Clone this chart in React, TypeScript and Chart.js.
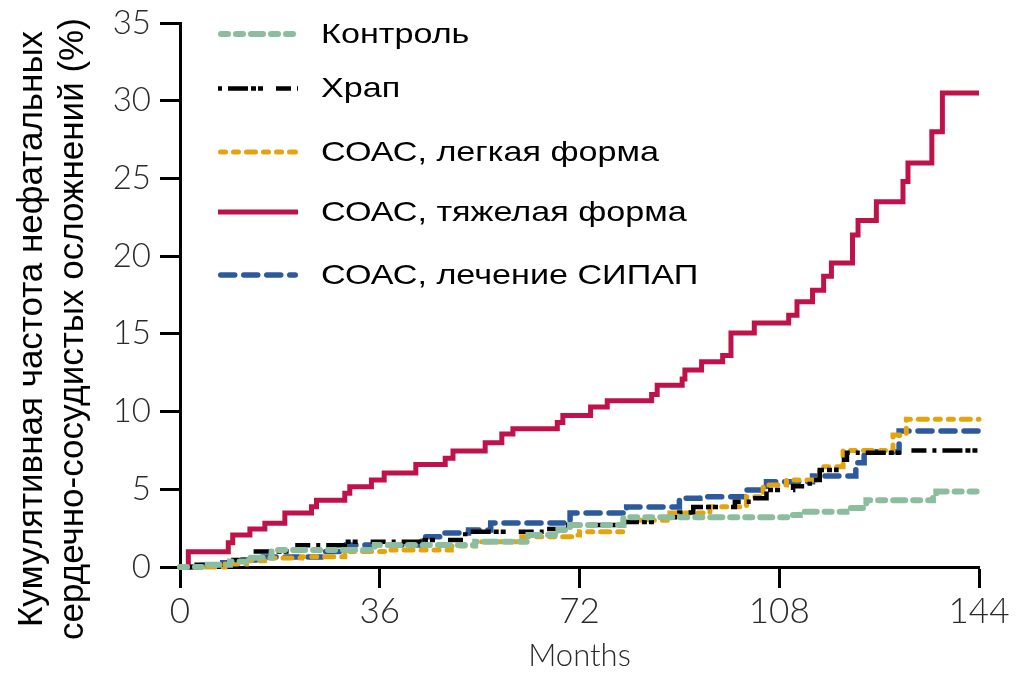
import { useEffect, useRef } from "react";
import { Chart, registerables } from "chart.js";

Chart.register(...registerables);

// ---- Data ----
const seriesLabels = [
  "Контроль",
  "Храп",
  "СОАС, легкая форма",
  "СОАС, тяжелая форма",
  "СОАС, лечение СИПАП",
];

const ctrlMonths = [0, 5, 9, 12.5, 16.5, 35.1, 53.2, 62.8, 68.2, 70.3, 79.9, 109.9, 111.7, 120.1, 123.7, 135.7, 136.3, 144];
const ctrlValues = [0, 0.15, 0.35, 0.6, 1.09, 1.42, 1.63, 2.06, 2.38, 2.7, 3.2, 3.35, 3.56, 3.8, 4.3, 4.52, 4.85, 4.85];

const snoreMonths = [0, 3, 8, 12.9, 19.8, 29.7, 44.1, 51.4, 65.8, 70, 80, 86, 90, 92.5, 100, 103, 105.7, 110.5, 113.5, 115.3, 118.3, 120.2, 130, 144];
const snoreValues = [0, 0.15, 0.45, 0.99, 1.4, 1.63, 1.74, 2.27, 2.44, 2.7, 2.9, 3.2, 3.5, 3.86, 4.2, 4.43, 4.95, 5.2, 5.6, 6.24, 6.9, 7.35, 7.5, 7.5];

const mildMonths = [0, 8.1, 12, 15.9, 21.9, 29.7, 37.5, 48.9, 53.2, 61.6, 70.6, 72, 79.9, 88.3, 95.5, 102.1, 105.1, 109.3, 115.3, 119.5, 128.5, 130.9, 144];
const mildValues = [0, 0.2, 0.4, 0.58, 0.66, 0.99, 1.09, 1.35, 1.63, 1.95, 2.06, 2.27, 3.0, 3.47, 3.88, 4.52, 5.28, 5.6, 6.45, 7.5, 8.5, 9.5, 9.5];

const severeMonths = [0, 1.5, 8.7, 9.5, 12.6, 15.3, 18.9, 23.7, 24.6, 29.7, 30.6, 34.5, 36.8, 42.5, 47.8, 49.2, 55, 58, 60, 68, 69, 74, 77, 85, 86, 90.5, 91, 94, 97.8, 99.3, 103.5, 109.7, 111.2, 114, 116, 117.4, 121.2, 122.2, 125.5, 130.3, 131.2, 135.5, 137.4, 144];
const severeValues = [0, 0.98, 1.56, 2.06, 2.44, 2.82, 3.47, 3.88, 4.3, 4.75, 5.17, 5.6, 6.05, 6.6, 7.0, 7.46, 8.0, 8.55, 8.9, 9.3, 9.75, 10.3, 10.7, 11.1, 11.7, 12.1, 12.68, 13.2, 13.6, 15.05, 15.7, 16.2, 17.07, 17.8, 18.7, 19.56, 21.36, 22.3, 23.5, 24.8, 26.0, 28.0, 30.5, 30.5];

const cpapMonths = [0, 4, 7.7, 11, 14.4, 26, 30, 43.5, 47.7, 52, 56, 70.3, 80.5, 90, 93.7, 102.1, 105.7, 114, 121.8, 123.3, 129.6, 144];
const cpapValues = [0, 0.1, 0.28, 0.45, 0.64, 0.99, 1.42, 1.95, 2.19, 2.38, 2.83, 3.47, 3.86, 4.43, 4.52, 4.95, 5.49, 5.86, 6.7, 7.42, 8.75, 8.75];

const xTickValues = [0, 36, 72, 108, 144];
const yMax = 35;
const yStep = 5;
const xTitle = "Months";
const yTitleLines = ["Кумулятивная частота нефатальных", "сердечно-сосудистых осложнений (%)"];

const toPoints = (xs: number[], ys: number[]) => xs.map((x, i) => ({ x, y: ys[i] }));

// ---- Plugins (legend + rotated y title) ----
const insetLegend = {
  id: "insetLegend",
  afterDraw(chart: any) {
    const ctx = chart.ctx as CanvasRenderingContext2D;
    const rows = [26, 80.5, 144, 204, 267];
    chart.data.datasets.forEach((ds: any, i: number) => {
      const y = rows[i];
      ctx.save();
      ctx.strokeStyle = ds.borderColor;
      ctx.lineWidth = ds.borderWidth;
      ctx.lineCap = ds.borderCapStyle || "butt";
      ctx.setLineDash(ds.borderDash || []);
      const pad = ctx.lineCap === "round" ? ds.borderWidth / 2 : 0;
      ctx.beginPath();
      ctx.moveTo(210 + pad, y);
      ctx.lineTo(290 - pad, y);
      ctx.stroke();
      ctx.setLineDash([]);
      ctx.fillStyle = "#000";
      ctx.font = '28px "Liberation Sans", Arial, sans-serif';
      ctx.textBaseline = "middle";
      ctx.textAlign = "left";
      ctx.translate(313, y + 1);
      ctx.scale(1.22, 1);
      ctx.fillText(ds.label, 0, 0);
      ctx.restore();
    });
  },
};

const yTitlePlugin = {
  id: "yTitle",
  afterDraw(chart: any) {
    const ctx = chart.ctx as CanvasRenderingContext2D;
    const baselines = [34, 75];
    ctx.save();
    ctx.fillStyle = "#000";
    ctx.font = '35px "Liberation Sans", Arial, sans-serif';
    ctx.textAlign = "center";
    ctx.textBaseline = "alphabetic";
    yTitleLines.forEach((line, i) => {
      ctx.save();
      ctx.translate(baselines[i], 321);
      ctx.rotate(-Math.PI / 2);
      ctx.fillText(line, 0, 0);
      ctx.restore();
    });
    ctx.restore();
  },
};

export default function App() {
  const ref = useRef<HTMLCanvasElement | null>(null);

  useEffect(() => {
    if (!ref.current) return;
    const common = { pointRadius: 0, pointHoverRadius: 0, stepped: "before" as const, fill: false, clip: false as any };
    const chart = new Chart(ref.current, {
      type: "line",
      data: {
        datasets: [
          { ...common, label: seriesLabels[0], data: toPoints(ctrlMonths, ctrlValues), borderColor: "#8dbd9f", borderWidth: 6, borderDash: [7, 8, 7, 8, 12, 8], borderCapStyle: "round" },
          { ...common, label: seriesLabels[1], data: toPoints(snoreMonths, snoreValues), borderColor: "#000000", borderWidth: 4.5, borderDash: [4, 6, 20, 3, 5, 2, 5, 13, 15, 6] },
          { ...common, label: seriesLabels[2], data: toPoints(mildMonths, mildValues), borderColor: "#e6a40c", borderWidth: 5, borderDash: [5, 8, 5, 8, 9, 8], borderCapStyle: "round" },
          { ...common, label: seriesLabels[3], data: toPoints(severeMonths, severeValues), borderColor: "#c0124a", borderWidth: 5 },
          { ...common, label: seriesLabels[4], data: toPoints(cpapMonths, cpapValues), borderColor: "#2d5a9e", borderWidth: 5.5, borderDash: [14, 9], borderCapStyle: "round" },
        ] as any,
      },
      options: {
        animation: false,
        responsive: true,
        maintainAspectRatio: false,
        layout: { padding: { top: 15, right: 30, left: 0, bottom: 0 } },
        plugins: { legend: { display: false }, tooltip: { enabled: false } },
        scales: {
          x: {
            type: "linear",
            min: 0,
            max: 144,
            afterBuildTicks: (s: any) => {
              s.ticks = xTickValues.map((v) => ({ value: v }));
            },
            afterFit: (s: any) => {
              s.height = 99;
              s.paddingLeft = 0;
              s.paddingRight = 0;
            },
            border: { display: true, color: "#000", width: 3 },
            grid: { display: true, drawOnChartArea: false, drawTicks: true, tickLength: 21, tickWidth: 3, tickColor: "#000" },
            ticks: {
              padding: 6,
              color: "#2a2a2a",
              font: { family: "Lato, 'Open Sans', sans-serif", size: 35, weight: "300", lineHeight: 1 },
              maxRotation: 0,
              autoSkip: false,
            },
            title: {
              display: true,
              text: xTitle,
              color: "#2a2a2a",
              font: { family: "Lato, 'Open Sans', sans-serif", size: 31, weight: "300", lineHeight: 1 },
              padding: { top: 0, bottom: -5 },
            },
          },
          y: {
            type: "linear",
            min: 0,
            max: yMax,
            ticks: {
              stepSize: yStep,
              padding: 9,
              color: "#2a2a2a",
              font: { family: "Lato, 'Open Sans', sans-serif", size: 33, weight: "300", lineHeight: 1 },
            },
            afterFit: (s: any) => {
              s.width = 172;
              s.paddingTop = 0;
              s.paddingBottom = 0;
            },
            border: { display: true, color: "#000", width: 3 },
            grid: { display: true, drawOnChartArea: false, drawTicks: true, tickLength: 20, tickWidth: 3, tickColor: "#000" },
          },
        },
      },
      plugins: [insetLegend, yTitlePlugin],
    });
    return () => chart.destroy();
  }, []);

  return (
    <div style={{ position: "relative", width: 1001, height: 658 }}>
      <canvas ref={ref} />
    </div>
  );
}
